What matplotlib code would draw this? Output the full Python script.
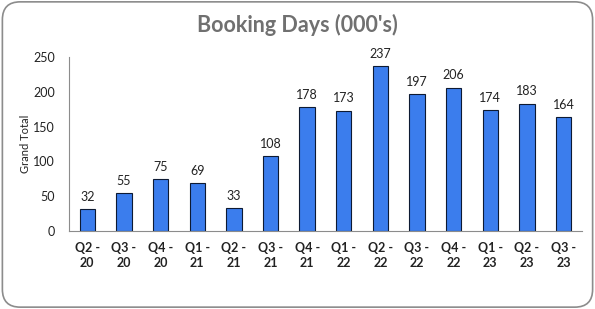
import matplotlib.pyplot as plt
from matplotlib.patches import FancyBboxPatch

# data
quarters = ["Q2 -\n20", "Q3 -\n20", "Q4 -\n20", "Q1 -\n21", "Q2 -\n21", "Q3 -\n21", "Q4 -\n21",
            "Q1 -\n22", "Q2 -\n22", "Q3 -\n22", "Q4 -\n22", "Q1 -\n23", "Q2 -\n23", "Q3 -\n23"]
booking_days = [32, 55, 75, 69, 33, 108, 178, 173, 237, 197, 206, 174, 183, 164]

plt.rcParams['font.family'] = ['Lato', 'DejaVu Sans']

fig = plt.figure(figsize=(5.95, 3.09), dpi=100)
border = FancyBboxPatch((0.004, 0.006), 0.992, 0.988, boxstyle="round,pad=0,rounding_size=0.03",
                        transform=fig.transFigure, facecolor="none", edgecolor="#8c8c8c",
                        linewidth=1.2, mutation_aspect=595 / 309, zorder=5)
fig.patches.append(border)

ax = fig.add_axes([0.116, 0.252, 0.862, 0.564])
ax.patch.set_alpha(0)
x = range(len(booking_days))
bars = ax.bar(x, booking_days, width=0.42, color="#3b7ded", edgecolor="#0d1a33", linewidth=0.8)

for xi, v in zip(x, booking_days):
    ax.text(xi, v + 9, str(v), ha="center", va="bottom", fontsize=9, color="#222222")

ax.set_xlim(-0.5, len(booking_days) - 0.5)
ax.set_ylim(0, 250)
ax.set_yticks([0, 50, 100, 150, 200, 250])
ax.set_xticks(list(x))
ax.set_xticklabels(quarters, fontweight="bold", fontsize=9, color="#222222", linespacing=1.3)
ax.tick_params(axis="both", length=0, pad=8)
ax.tick_params(axis="y", labelsize=9, labelcolor="#222222", pad=10)
ax.set_ylabel("Grand Total", fontsize=8, color="#222222", labelpad=2)

for side in ["top", "right"]:
    ax.spines[side].set_visible(False)
ax.spines["left"].set_color("#8c8c8c")
ax.spines["bottom"].set_color("#8c8c8c")

fig.text(0.5, 0.92, "Booking Days (000's)", ha="center", va="center",
         fontsize=15.5, fontweight="bold", color="#707070")

fig.savefig("out.png", dpi=100)
